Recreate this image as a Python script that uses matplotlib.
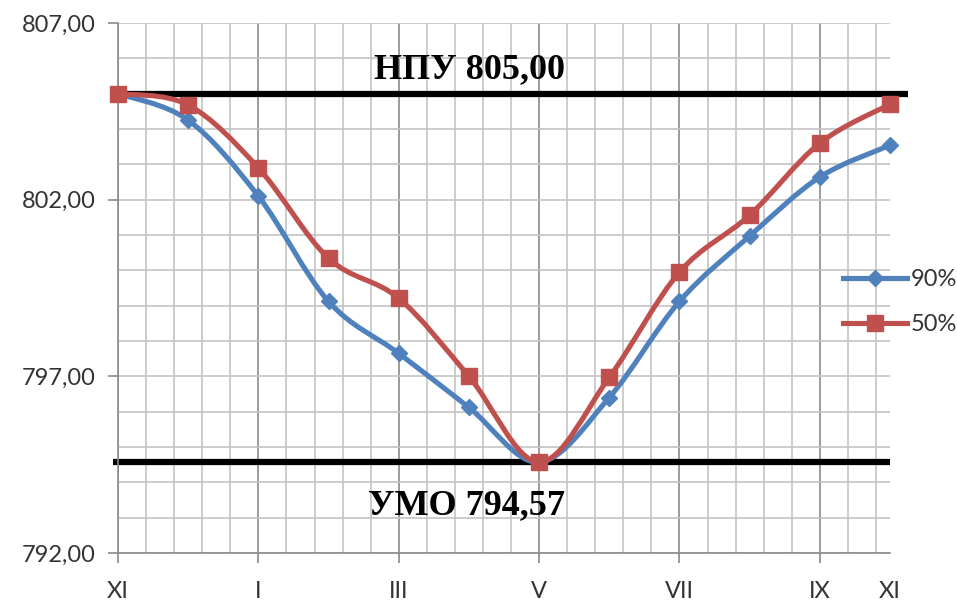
import matplotlib
matplotlib.use("Agg")
import matplotlib.pyplot as plt
from matplotlib.path import Path
from matplotlib.patches import PathPatch
from matplotlib.lines import Line2D
import numpy as np

# Monthly reservoir levels, m (November to the following November)
months = ["XI", "XII", "I", "II", "III", "IV", "V", "VI", "VII", "VIII", "IX", "X"]
level_90 = [805.00, 804.25, 802.10, 799.12, 797.65, 796.12, 794.57, 796.40, 799.12, 800.97, 802.64, 803.54]
level_50 = [805.00, 804.68, 802.90, 800.34, 799.21, 797.00, 794.57, 796.97, 799.95, 801.56, 803.60, 804.70]
series_names = ["90%", "50%"]

npu_level = 805.00
umo_level = 794.57
npu_text = "НПУ 805,00"
umo_text = "УМО 794,57"

tick_positions = [0, 2, 4, 6, 8, 10, 11]
tick_labels = ["XI", "I", "III", "V", "VII", "IX", "XI"]
y_ticks = [792, 797, 802, 807]

BLUE = "#4F81BD"
RED = "#C0504D"
TEXT = "#333333"

fig = plt.figure(figsize=(9.57, 6.06), dpi=100)
ax = fig.add_axes([118 / 957, 1 - 553 / 606, (890 - 118) / 957, (553 - 23) / 606])

ax.set_xlim(0, 11)
ax.set_ylim(792, 807)

# grid: minor every 0.4 category, 1 m; major vertical at labelled months
for xv in np.arange(0, 11.001, 0.4):
    major = abs(xv / 2 - round(xv / 2)) < 1e-6
    ax.axvline(xv, color="#8a8a8a" if major else "#c4c4c4", lw=1.2, zorder=0)
for yv in range(792, 808):
    ax.axhline(yv, color="#c4c4c4", lw=1.2, zorder=0)

for s in ["top", "right"]:
    ax.spines[s].set_visible(False)
for s in ["left", "bottom"]:
    ax.spines[s].set_color("#8a8a8a")
    ax.spines[s].set_linewidth(1.2)

ax.set_yticks(y_ticks)
ax.set_yticklabels([f"{v:.2f}".replace(".", ",") for v in y_ticks],
                   fontsize=17, color=TEXT, family="Lato")
ax.set_xticks(tick_positions)
ax.set_xticklabels(tick_labels, fontsize=17, color=TEXT, family="Lato")
ax.tick_params(axis="y", length=7, width=1.2, color="#8a8a8a", pad=9)
ax.tick_params(axis="x", length=7, width=1.2, color="#8a8a8a", pad=13)
for t in ax.xaxis.get_major_ticks():
    if t.get_loc() == 11:
        t.tick1line.set_visible(False)


def smooth_path(xs, ys):
    """Bezier path through the points with Excel-style smoothing."""
    pts = np.column_stack([xs, ys]).astype(float)
    n = len(pts)
    verts = [pts[0]]
    codes = [Path.MOVETO]
    for i in range(n - 1):
        p0 = pts[i - 1] if i > 0 else pts[i]
        p1 = pts[i]
        p2 = pts[i + 1]
        p3 = pts[i + 2] if i + 2 < n else pts[i + 1]
        c1 = p1 + (p2 - p0) / 6
        c2 = p2 - (p3 - p1) / 6
        verts += [c1, c2, p2]
        codes += [Path.CURVE4] * 3
    return Path(verts, codes)


x = np.arange(len(months))

# reference levels
for lvl, xend in [(npu_level, 11.25), (umo_level, 11.0)]:
    ax.add_line(Line2D([-0.07, xend], [lvl, lvl], color="black", lw=4.5,
                       zorder=2, clip_on=False, solid_capstyle="butt"))

ax.text(5.01, 805.44, npu_text, ha="center", va="baseline",
        fontsize=26, fontweight="bold", family="Liberation Serif", color="black")
ax.text(4.97, 793.10, umo_text, ha="center", va="baseline",
        fontsize=26, fontweight="bold", family="Liberation Serif", color="black")

for ys, col, mk, ms, z in [(level_90, BLUE, "D", 8.5, 3), (level_50, RED, "s", 11, 4)]:
    ax.add_patch(PathPatch(smooth_path(x, ys), facecolor="none", edgecolor=col,
                           lw=3.7, zorder=z, transform=ax.transData,
                           capstyle="round", joinstyle="round", clip_on=False))
    ax.plot(x, ys, linestyle="none", marker=mk, ms=ms, color=col, zorder=z + 0.5,
            clip_on=False)

handles = [
    Line2D([], [], color=BLUE, lw=3.7, marker="D", ms=8.5),
    Line2D([], [], color=RED, lw=3.7, marker="s", ms=11),
]
fig.legend(handles, series_names, loc="center left",
           bbox_to_anchor=(843 / 957, 1 - 302 / 606), frameon=False,
           prop={"family": "Lato", "size": 17}, labelcolor=TEXT,
           handlelength=2.7, handletextpad=0.15, labelspacing=1.0,
           borderpad=0, borderaxespad=0)

fig.savefig("out.png", dpi=100, facecolor="white")
